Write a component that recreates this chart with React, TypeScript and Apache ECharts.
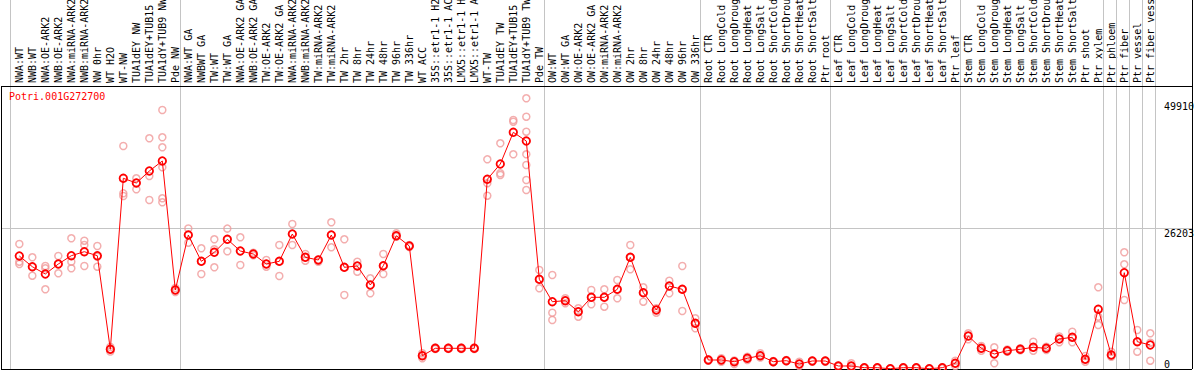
import React, { useEffect, useRef } from "react";
import * as echarts from "echarts";

const geneId = "Potri.001G272700";

const categories = [
  "NWA:WT", "NWB:WT", "NWA:OE-ARK2", "NWB:OE-ARK2", "NWA:miRNA-ARK2", "NWB:miRNA-ARK2",
  "NW 0hr", "WT H2O", "WT-NW", "TUA1dEY NW", "TUA1dEY+TUB15 NW", "TUA1dY+TUB9 NW", "Pde NW",
  "NWA:WT GA", "NWBWT GA", "TW:WT", "TW:WT GA", "NWA:OE-ARK2 GA", "NWB:OE-ARK2 GA",
  "TW:OE-ARK2", "TW:OE-ARK2 GA", "NWA:miRNA-ARK2", "NWB:miRNA-ARK2", "TW:miRNA-ARK2",
  "TW:miRNA-ARK2", "TW 2hr", "TW 8hr", "TW 24hr", "TW 48hr", "TW 96hr", "TW 336hr", "WT ACC",
  "35S::etr1-1 H2O", "35S::etr1-1 ACC", "LMX5::etr1-1 H2O", "LMX5::etr1-1 ACC", "WT-TW",
  "TUA1dEY TW", "TUA1dEY+TUB15 TW", "TUA1dY+TUB9 TW", "Pde TW",
  "OW:WT", "OW:WT GA", "OW:OE-ARK2", "OW:OE-ARK2 GA", "OW:miRNA-ARK2", "OW:miRNA-ARK2",
  "OW 2hr", "OW 8hr", "OW 24hr", "OW 48hr", "OW 96hr", "OW 336hr",
  "Root CTR", "Root LongCold", "Root LongDrought", "Root LongHeat", "Root LongSalt",
  "Root ShortCold", "Root ShortDrought", "Root ShortHeat", "Root ShortSalt", "Ptr root",
  "Leaf CTR", "Leaf LongCold", "Leaf LongDrought", "Leaf LongHeat", "Leaf LongSalt",
  "Leaf ShortCold", "Leaf ShortDrought", "Leaf ShortHeat", "Leaf ShortSalt", "Ptr leaf",
  "Stem CTR", "Stem LongCold", "Stem LongDrought", "Stem LongHeat", "Stem LongSalt",
  "Stem ShortCold", "Stem ShortDrought", "Stem ShortHeat", "Stem ShortSalt", "Ptr shoot",
  "Ptr xylem", "Ptr phloem", "Ptr fiber", "Ptr vessel", "Ptr fiber vessel",
];

const means = [
  21044, 19051, 17692, 19554, 21100, 21845, 21100, 3669, 35514, 34639,
  36874, 38736, 14712, 24955, 20057, 21733, 24154, 21975, 21416, 19554,
  20057, 25141, 20802, 20299, 24955, 18940, 19182, 15643, 19238, 24824,
  22906, 2477, 3855, 3855, 3855, 3855, 35328, 38177, 44081, 42460,
  16705, 12533, 12719, 10671, 13353, 13353, 14842, 20802, 14209, 10988,
  15457, 14842, 8511, 1676, 1676, 1359, 1993, 2477, 1359, 1546,
  931, 1490, 1490, 559, 559, 242, 242, 56, 242, 242,
  56, 242, 1061, 6146, 3855, 2793, 3408, 3669, 4041, 3855,
  5587, 5903, 1806, 11118, 2607, 17934, 5084, 4470,
];

const replicates = [
  [23279, 19982, 19554], [20802, 18995, 17375], [19182, 18753, 14842], [21044, 19554, 17822],
  [24340, 19982, 18753], [23893, 23093, 19182], [22906, 20914, 19051], [4097, 3669, 3259],
  [41529, 32720, 32218], [35514, 34639, 33465], [42963, 35942, 31473],
  [48234, 43150, 41288, 37563, 31790, 31045], [15085, 14712, 14340], [26180, 24955, 23521],
  [22478, 20057, 17692], [24154, 22292, 18940], [26150, 24154, 21919], [24526, 21975, 19368],
  [21658, 21416, 21174], [20299, 19554, 19051], [23093, 20057, 17319], [27003, 25141, 23093],
  [21416, 20802, 20169], [20392, 20299, 19982], [27320, 24955, 22664], [24154, 18940, 13781],
  [19982, 19182, 18120], [16891, 15643, 14098], [21416, 19238, 17692], [25272, 24824, 24638],
  [23093, 22906, 22720], [2924, 2477, 1993], [4004, 3855, 3725], [3990, 3855, 3740],
  [4010, 3860, 3720], [3995, 3850, 3730], [39052, 34583, 32274], [42032, 36445, 36129],
  [46371, 46054, 39984], [50413, 46985, 44192, 39984, 37991, 35197, 33336], [18437, 16705, 15029],
  [17506, 10485, 9125], [13167, 12719, 12235], [11304, 10671, 9740], [14712, 13353, 12049],
  [14842, 13353, 11602], [16574, 14842, 13167], [23093, 20802, 18567], [15215, 14209, 12533],
  [11304, 10988, 10485], [16444, 15457, 14098], [19182, 14842, 10801], [9442, 8511, 7580],
  [1806, 1676, 1546], [1993, 1676, 1359], [1583, 1359, 931], [2291, 1993, 1676],
  [2924, 2477, 2142], [1490, 1359, 1248], [1676, 1546, 1434], [1359, 931, 559],
  [1583, 1490, 1359], [1583, 1490, 1359], [652, 559, 466], [1061, 559, 186],
  [317, 242, 130], [317, 242, 130], [130, 56, 0], [317, 242, 130], [317, 242, 130],
  [130, 56, 0], [317, 242, 130], [1546, 1061, 559], [6648, 6146, 5531], [4283, 3855, 3408],
  [4041, 2793, 1061], [3631, 3408, 3222], [3855, 3669, 3482], [5084, 4041, 3408],
  [4153, 3855, 3538], [6052, 5587, 4972], [6946, 5903, 4972], [2421, 1806, 1359],
  [15215, 9740, 8194], [3222, 2607, 2291], [21733, 19498, 12850], [7263, 5084, 3222],
  [6648, 4898, 1546],
];

const yTickLabelsTop = [49910, 26203];
const yTickLabelsBottom = [0];
const gridLineValue = 26203;
const groupDividers = [-0.68, 12.4, 40.4, 52.4, 62.4, 72.4, 83.4, 84.4, 85.4, 86.4, 87.4];

const X_MIN = -1.41;
const X_MAX = 90.21;
const Y_MAX = 68720;
const PLOT_TOP = 52700;
const FONT = "DejaVu Sans Mono";

export default function App() {
  const ref = useRef<HTMLDivElement>(null);
  useEffect(() => {
    if (!ref.current) return;
    const chart = echarts.init(ref.current, null, { renderer: "svg" });
    const repData: number[][] = [];
    replicates.forEach((arr, i) => arr.forEach((v) => repData.push([i, v])));
    const meanData = means.map((v, i) => [i, v]);
    const gray = { color: "#c4c4c4", width: 1, type: "solid" as const };
    const black = { color: "#000", width: 1, type: "solid" as const };
    const markLineData: any[] = [
      ...groupDividers.map((x) => ({ xAxis: x, lineStyle: gray })),
      { yAxis: gridLineValue, lineStyle: gray },
      { xAxis: X_MAX, lineStyle: black },
      { yAxis: 0, lineStyle: black },
      [{ coord: [X_MIN, PLOT_TOP], lineStyle: black }, { coord: [X_MAX, PLOT_TOP] }],
      [{ coord: [X_MIN, 0], lineStyle: black }, { coord: [X_MIN, PLOT_TOP] }],
    ];
    const yAxisBase = {
      type: "value" as const,
      min: 0,
      max: Y_MAX,
      position: "right" as const,
      axisLine: { show: false },
      axisTick: { show: false },
      splitLine: { show: false },
    };
    const yLabelBase = {
      inside: true,
      align: "left",
      margin: 28,
      fontSize: 10,
      fontFamily: FONT,
      color: "#000",
      formatter: (v: number) => String(v),
    };
    chart.setOption({
      animation: false,
      backgroundColor: "#ffffff",
      title: {
        text: geneId,
        left: 9,
        top: 91,
        padding: 0,
        textStyle: { fontSize: 10, fontFamily: FONT, color: "#ff0000", fontWeight: "normal" },
      },
      grid: { left: 1, right: 2, top: 0, bottom: 1, containLabel: false, outerBoundsMode: "none" },
      xAxis: {
        type: "value",
        min: X_MIN,
        max: X_MAX,
        position: "top",
        offset: -83,
        axisLine: { show: false },
        axisTick: { show: false },
        splitLine: { show: false },
        axisLabel: {
          customValues: categories.map((_, i) => i),
          formatter: (v: number) => categories[Math.round(v)] ?? "",
          rotate: 90,
          margin: 0,
          fontSize: 10,
          fontFamily: FONT,
          color: "#000",
        },
      },
      yAxis: [
        {
          ...yAxisBase,
          axisLabel: { ...yLabelBase, customValues: yTickLabelsTop, verticalAlign: "top" },
        },
        {
          ...yAxisBase,
          axisLabel: { ...yLabelBase, customValues: yTickLabelsBottom, verticalAlign: "bottom" },
        },
      ],
      series: [
        {
          type: "scatter",
          name: "replicates",
          data: repData,
          symbol: "circle",
          symbolSize: 7,
          itemStyle: { color: "rgba(0,0,0,0)", borderColor: "#f09a9a", borderWidth: 1.5 },
          z: 2,
          silent: true,
          markLine: {
            silent: true,
            symbol: ["none", "none"],
            label: { show: false },
            data: markLineData,
            z: 1,
          },
        },
        {
          type: "line",
          name: "mean",
          data: meanData,
          symbol: "circle",
          symbolSize: 7.5,
          showAllSymbol: true,
          lineStyle: { color: "#ff0000", width: 1 },
          itemStyle: { color: "rgba(0,0,0,0)", borderColor: "#ff0000", borderWidth: 1.8 },
          z: 3,
          silent: true,
        },
      ],
    });
    return () => chart.dispose();
  }, []);
  return (
    <div
      ref={ref}
      style={{ position: "absolute", left: 0, top: 0, width: 1194, height: 370 }}
    />
  );
}
